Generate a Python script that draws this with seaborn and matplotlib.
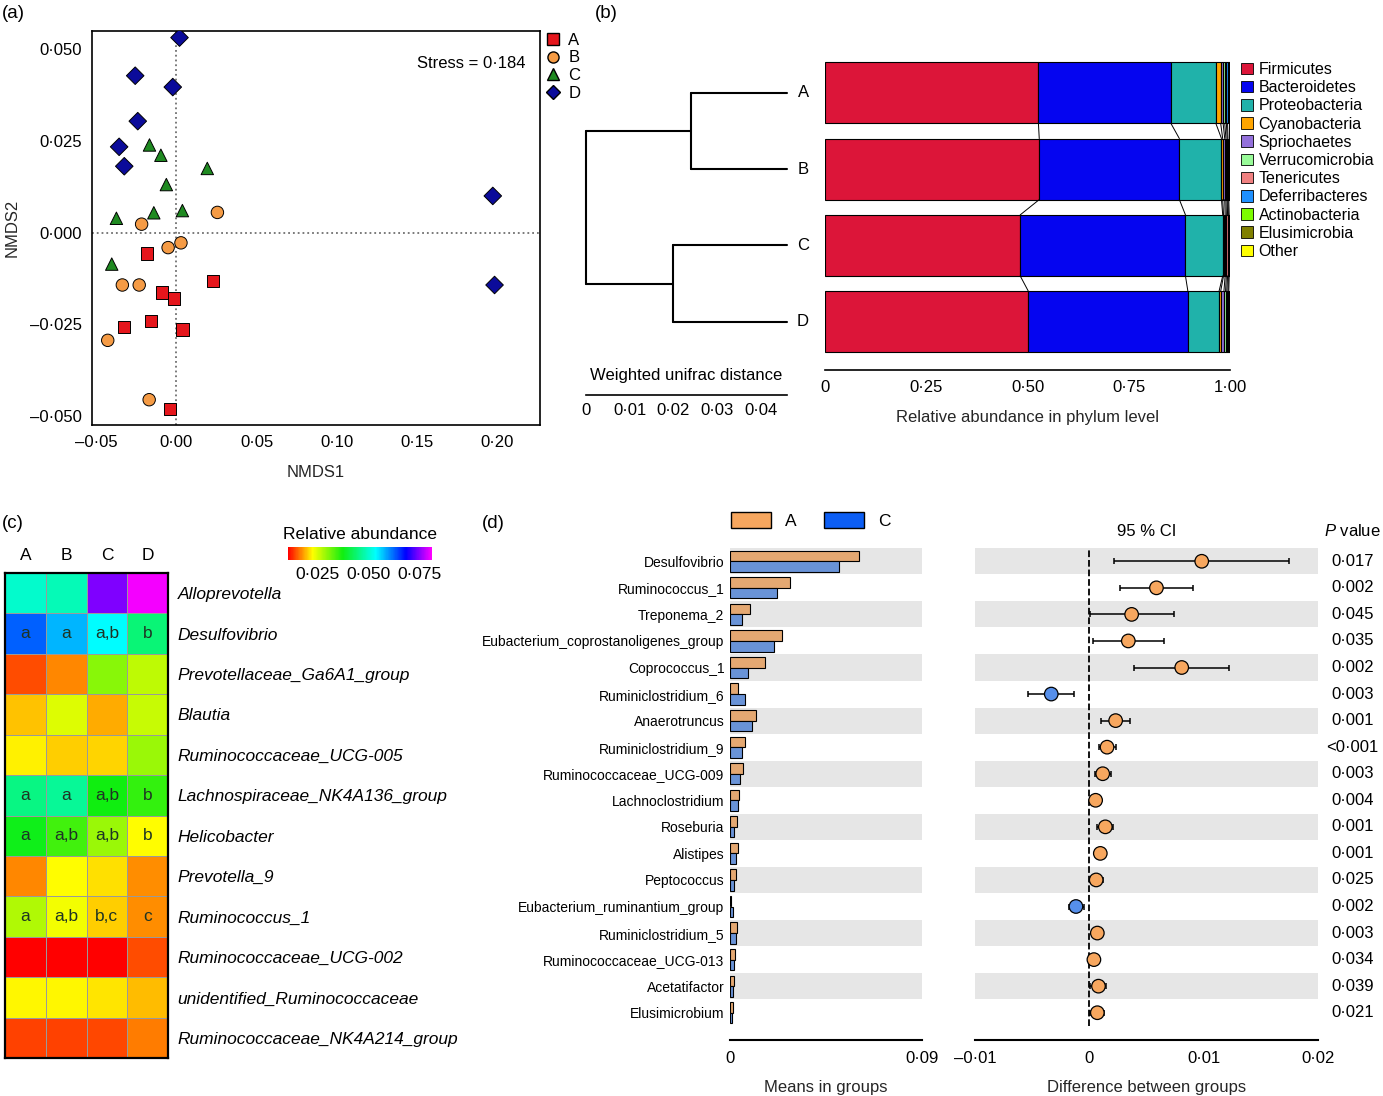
"""Four-panel gut microbiota figure: NMDS, phylum composition, genus heatmap, STAMP-style comparison."""

import matplotlib

matplotlib.use("Agg")
import matplotlib.pyplot as plt  # noqa: E402
import matplotlib.transforms as mtransforms  # noqa: E402
import numpy as np  # noqa: E402
import pandas as pd  # noqa: E402
import seaborn as sns  # noqa: E402
from matplotlib.colors import LinearSegmentedColormap  # noqa: E402
from matplotlib.lines import Line2D  # noqa: E402
from matplotlib.patches import Patch  # noqa: E402

W, H = 1383, 1096
GROUPS = ["A", "B", "C", "D"]

# ---- (a) NMDS -------------------------------------------------------------
NMDS_GROUP = ["A"] * 8 + ["B"] * 8 + ["C"] * 8 + ["D"] * 8
NMDS1 = [-0.0184, 0.0227, -0.0089, -0.0013, -0.0158, -0.0324, 0.0038, -0.0040,
         0.0256, -0.0216, 0.0029, -0.0051, -0.0336, -0.0231, -0.0427, -0.0169,
         -0.0167, -0.0096, 0.0193, -0.0062, -0.0373, -0.0140, 0.0038, -0.0402,
         0.0020, -0.0256, -0.0022, -0.0240, -0.0356, -0.0324, 0.1971, 0.1982]
NMDS2 = [-0.0057, -0.0132, -0.0164, -0.0180, -0.0242, -0.0257, -0.0264, -0.0482,
         0.0055, 0.0023, -0.0028, -0.0041, -0.0143, -0.0143, -0.0294, -0.0456,
         0.0239, 0.0211, 0.0175, 0.0131, 0.0039, 0.0054, 0.0060, -0.0086,
         0.0532, 0.0428, 0.0397, 0.0304, 0.0234, 0.0181, 0.0100, -0.0143]
NMDS_STRESS = 0.184
NMDS_XTICKS = [-0.05, 0.0, 0.05, 0.10, 0.15, 0.20]
NMDS_YTICKS = [-0.050, -0.025, 0.0, 0.025, 0.050]
GROUP_COLORS = {"A": "#E5161C", "B": "#F59B45", "C": "#1F8A21", "D": "#0B0B9A"}
GROUP_MARKERS = {"A": "s", "B": "o", "C": "^", "D": "D"}

# ---- (b) dendrogram + phylum composition ---------------------------------
MERGE_DIST = {"AB": 0.0220, "CD": 0.0261, "root": 0.0460}
PHYLA = ["Firmicutes", "Bacteroidetes", "Proteobacteria", "Cyanobacteria", "Spriochaetes",
         "Verrucomicrobia", "Tenericutes", "Deferribacteres", "Actinobacteria", "Elusimicrobia", "Other"]
PHYLUM_COLORS = ["#DC1539", "#0505F0", "#20B2AA", "#FFA500", "#9370DB", "#98FB98",
                 "#F08080", "#1E90FF", "#7CFC00", "#808000", "#FFFF00"]
FIRMICUTES = [0.527, 0.529, 0.482, 0.502]
BACTEROIDETES = [0.327, 0.346, 0.408, 0.394]
PROTEOBACTERIA = [0.111, 0.104, 0.092, 0.077]
CYANOBACTERIA = [0.012, 0.003, 0.002, 0.004]
SPIROCHAETES = [0.006, 0.005, 0.004, 0.008]
VERRUCOMICROBIA = [0.004, 0.003, 0.003, 0.004]
TENERICUTES = [0.004, 0.003, 0.003, 0.003]
DEFERRIBACTERES = [0.003, 0.002, 0.002, 0.003]
ACTINOBACTERIA = [0.003, 0.002, 0.002, 0.002]
ELUSIMICROBIA = [0.002, 0.002, 0.001, 0.002]
OTHER = [0.001, 0.001, 0.001, 0.001]

# ---- (c) genus heatmap ----------------------------------------------------
GENERA = ["Alloprevotella", "Desulfovibrio", "Prevotellaceae_Ga6A1_group", "Blautia",
          "Ruminococcaceae_UCG-005", "Lachnospiraceae_NK4A136_group", "Helicobacter",
          "Prevotella_9", "Ruminococcus_1", "Ruminococcaceae_UCG-002",
          "unidentified_Ruminococcaceae", "Ruminococcaceae_NK4A214_group"]
HEAT_A = [0.0501, 0.0628, 0.0141, 0.0197, 0.0217, 0.0451, 0.0380, 0.0169, 0.0273, 0.0095, 0.0220, 0.0134]
HEAT_B = [0.0486, 0.0579, 0.0169, 0.0245, 0.0202, 0.0465, 0.0344, 0.0224, 0.0231, 0.0095, 0.0220, 0.0134]
HEAT_C = [0.0749, 0.0536, 0.0298, 0.0186, 0.0205, 0.0373, 0.0288, 0.0209, 0.0202, 0.0095, 0.0213, 0.0137]
HEAT_D = [0.0806, 0.0444, 0.0266, 0.0259, 0.0288, 0.0352, 0.0224, 0.0171, 0.0171, 0.0141, 0.0194, 0.0163]
LETTERS_A = ["", "a", "", "", "", "a", "a", "", "a", "", "", ""]
LETTERS_B = ["", "a", "", "", "", "a", "a,b", "", "a,b", "", "", ""]
LETTERS_C = ["", "a,b", "", "", "", "a,b", "a,b", "", "b,c", "", "", ""]
LETTERS_D = ["", "b", "", "", "", "b", "b", "", "c", "", "", ""]
HEAT_VMIN, HEAT_VMAX = 0.0103, 0.0813
HEAT_TICKS = [0.025, 0.050, 0.075]

# ---- (d) A vs C extended error bar ---------------------------------------
TAXA = ["Desulfovibrio", "Ruminococcus_1", "Treponema_2", "Eubacterium_coprostanoligenes_group",
        "Coprococcus_1", "Ruminiclostridium_6", "Anaerotruncus", "Ruminiclostridium_9",
        "Ruminococcaceae_UCG-009", "Lachnoclostridium", "Roseburia", "Alistipes", "Peptococcus",
        "Eubacterium_ruminantium_group", "Ruminiclostridium_5", "Ruminococcaceae_UCG-013",
        "Acetatifactor", "Elusimicrobium"]
MEAN_A = [0.0606, 0.0281, 0.0094, 0.0242, 0.0164, 0.0036, 0.0123, 0.0070, 0.0059,
          0.0044, 0.0033, 0.0037, 0.0027, 0.0003, 0.0034, 0.0023, 0.0020, 0.0016]
MEAN_C = [0.0509, 0.0222, 0.0056, 0.0206, 0.0083, 0.0070, 0.0102, 0.0056, 0.0047,
          0.0037, 0.0020, 0.0028, 0.0019, 0.0016, 0.0028, 0.0020, 0.0013, 0.0008]
DIFF = [0.00983, 0.00587, 0.00370, 0.00341, 0.00808, -0.00333, 0.00230, 0.00155, 0.00117,
        0.00055, 0.00140, 0.00096, 0.00060, -0.00117, 0.00070, 0.00040, 0.00080, 0.00070]
CI_LO = [0.00213, 0.00266, 0.00006, 0.00032, 0.00391, -0.00534, 0.00105, 0.00082, 0.00050,
         0.00020, 0.00070, 0.00055, 0.00010, -0.00180, 0.00035, 0.00010, 0.00010, 0.00010]
CI_HI = [0.01748, 0.00910, 0.00738, 0.00654, 0.01220, -0.00134, 0.00353, 0.00230, 0.00190,
         0.00090, 0.00210, 0.00140, 0.00120, -0.00050, 0.00110, 0.00070, 0.00150, 0.00130]
P_VALUES = ["0\u00b7017", "0\u00b7002", "0\u00b7045", "0\u00b7035", "0\u00b7002", "0\u00b7003",
            "0\u00b7001", "<0\u00b7001", "0\u00b7003", "0\u00b7004", "0\u00b7001", "0\u00b7001",
            "0\u00b7025", "0\u00b7002", "0\u00b7003", "0\u00b7034", "0\u00b7039", "0\u00b7021"]
ORANGE = "#F7A75F"
BLUE = "#568FEA"
BLUE_LEG = "#0C5EF4"

sns.set_theme(style="white")
plt.rcParams["font.family"] = ["Liberation Sans", "DejaVu Sans"]
plt.rcParams["mathtext.fontset"] = "custom"
plt.rcParams["mathtext.it"] = "Liberation Sans:italic"
plt.rcParams["mathtext.rm"] = "Liberation Sans"
plt.rcParams["axes.edgecolor"] = "black"
plt.rcParams["xtick.color"] = "black"
plt.rcParams["ytick.color"] = "black"
plt.rcParams["text.color"] = "black"


def rect(x0, y0, x1, y1):
    """Pixel box (top-left origin) -> figure fraction rect."""
    return [x0 / W, 1 - y1 / H, (x1 - x0) / W, (y1 - y0) / H]


def dot(v, nd):
    s = f"{abs(v):.{nd}f}".replace(".", "\u00b7")
    return "\u2013" + s if v < 0 else s


fig = plt.figure(figsize=(W / 100, H / 100), dpi=100)

# ================= (a) =================
ax = fig.add_axes(rect(92, 31, 540, 425))
nmds = pd.DataFrame({"NMDS1": NMDS1, "NMDS2": NMDS2, "group": NMDS_GROUP})
ax.axvline(0, color="#707070", ls=":", lw=1.3, zorder=0)
ax.axhline(0, color="#707070", ls=":", lw=1.3, zorder=0)
sns.scatterplot(data=nmds, x="NMDS1", y="NMDS2", hue="group", style="group",
                palette=GROUP_COLORS, markers=GROUP_MARKERS, s=80, edgecolor="black",
                linewidth=0.7, legend=False, ax=ax, zorder=3)
ax.set_xlim(-0.0525, 0.2265)
ax.set_ylim(-0.0525, 0.055)
ax.set_xticks(NMDS_XTICKS)
ax.set_xticklabels([dot(v, 2) for v in NMDS_XTICKS])
ax.set_yticks(NMDS_YTICKS)
ax.set_yticklabels([dot(v, 3) for v in NMDS_YTICKS])
ax.set_xticks(np.arange(-0.025, 0.2, 0.05), minor=True)
ax.set_yticks(np.arange(-0.0375, 0.05, 0.025), minor=True)
ax.tick_params(which="major", length=0, labelsize=12, pad=7)
ax.tick_params(which="minor", length=5, direction="in", width=1)
for s in ax.spines.values():
    s.set_linewidth(1.2)
ax.set_xlabel("NMDS1", fontsize=12, labelpad=11)
ax.set_ylabel("NMDS2", fontsize=12, labelpad=8)
ax.text(0.968, 0.918, "Stress = " + dot(NMDS_STRESS, 3), transform=ax.transAxes,
        ha="right", va="center", fontsize=12)
fig.legend(handles=[Line2D([], [], ls="", marker=GROUP_MARKERS[g], markerfacecolor=GROUP_COLORS[g],
                           markeredgecolor="black", markersize=8 if g != "D" else 7) for g in GROUPS],
           labels=GROUPS, loc="upper left", bbox_to_anchor=(545 / W, 1 - 33 / H), frameon=False,
           fontsize=12, handlelength=1.0, handletextpad=0.4, labelspacing=0.15,
           borderpad=0, borderaxespad=0)

# ================= (b) =================
ylims = (3.45, -0.43)
ax_dn = fig.add_axes(rect(586, 60, 787, 356))
leaf_x = MERGE_DIST["root"]
x_ab = leaf_x - MERGE_DIST["AB"]
x_cd = leaf_x - MERGE_DIST["CD"]
x_root = leaf_x - MERGE_DIST["root"]
segs = [([leaf_x, x_ab], [0, 0]), ([leaf_x, x_ab], [1, 1]), ([x_ab, x_ab], [0, 1]),
        ([leaf_x, x_cd], [2, 2]), ([leaf_x, x_cd], [3, 3]), ([x_cd, x_cd], [2, 3]),
        ([x_ab, x_root], [0.5, 0.5]), ([x_cd, x_root], [2.5, 2.5]), ([x_root, x_root], [0.5, 2.5])]
for xs, ys in segs:
    ax_dn.plot(xs, ys, color="black", lw=1.5, clip_on=False, solid_capstyle="round")
for i, g in enumerate(GROUPS):
    ax_dn.text(leaf_x * 1.08, i, g, ha="center", va="center", fontsize=12)
ax_dn.set_xlim(0, leaf_x)
ax_dn.set_ylim(*ylims)
ax_dn.axis("off")

ax_r = fig.add_axes(rect(586, 384, 787, 395))
ax_r.set_xlim(0, leaf_x)
ax_r.set_yticks([])
for k in ["left", "right", "top"]:
    ax_r.spines[k].set_visible(False)
ax_r.spines["bottom"].set_linewidth(1.2)
ax_r.set_xticks([0, 0.01, 0.02, 0.03, 0.04])
ax_r.set_xticklabels(["0", "0\u00b701", "0\u00b702", "0\u00b703", "0\u00b704"])
ax_r.set_xticks(np.arange(0, leaf_x + 1e-9, 0.001), minor=True)
ax_r.tick_params(which="major", direction="in", length=6, width=1, labelsize=12, pad=6)
ax_r.tick_params(which="minor", direction="in", length=3, width=0.8)
ax_r.set_title("Weighted unifrac distance", fontsize=12, pad=3)
ax_r.patch.set_alpha(0)

ax_b = fig.add_axes(rect(825, 60, 1230, 356))
comp = pd.DataFrame({"Firmicutes": FIRMICUTES, "Bacteroidetes": BACTEROIDETES,
                     "Proteobacteria": PROTEOBACTERIA, "Cyanobacteria": CYANOBACTERIA,
                     "Spriochaetes": SPIROCHAETES, "Verrucomicrobia": VERRUCOMICROBIA,
                     "Tenericutes": TENERICUTES, "Deferribacteres": DEFERRIBACTERES,
                     "Actinobacteria": ACTINOBACTERIA, "Elusimicrobia": ELUSIMICROBIA,
                     "Other": OTHER}, index=GROUPS)
ypos = np.arange(len(GROUPS))
left = np.zeros(len(GROUPS))
for name, color in zip(PHYLA, PHYLUM_COLORS):
    ax_b.barh(ypos, comp[name].values, left=left, height=0.8, color=color,
              edgecolor="black", linewidth=0.8)
    left = left + comp[name].values
cum = comp.cumsum(axis=1).values
for j in range(cum.shape[1] - 1):
    for i in range(len(GROUPS) - 1):
        ax_b.plot([cum[i, j], cum[i + 1, j]], [i + 0.4, i + 0.6], color="black", lw=0.7)
ax_b.set_xlim(0, 1)
ax_b.set_ylim(*ylims)
ax_b.set_yticks([])
for k in ["left", "right", "top"]:
    ax_b.spines[k].set_visible(False)
ax_b.spines["bottom"].set_position(("outward", 10))
ax_b.spines["bottom"].set_linewidth(1.2)
ax_b.set_xticks([0, 0.25, 0.5, 0.75, 1.0])
ax_b.set_xticklabels(["0", "0\u00b725", "0\u00b750", "0\u00b775", "1\u00b700"])
ax_b.tick_params(axis="x", direction="in", length=6, width=1, labelsize=12, pad=7)
ax_b.set_xlabel("Relative abundance in phylum level", fontsize=12, labelpad=11)
fig.legend(handles=[Patch(facecolor=c, edgecolor="black", linewidth=0.6) for c in PHYLUM_COLORS],
           labels=PHYLA, loc="upper left", bbox_to_anchor=(1241 / W, 1 - 62 / H), frameon=False,
           fontsize=11.5, handlelength=0.75, handleheight=0.75, handletextpad=0.35,
           labelspacing=0.2, borderpad=0, borderaxespad=0)

# ================= (c) =================
ax_hm = fig.add_axes(rect(5, 573, 168, 1058))
cax = fig.add_axes(rect(288, 547, 432, 560))
heat = pd.DataFrame({"A": HEAT_A, "B": HEAT_B, "C": HEAT_C, "D": HEAT_D}, index=GENERA)
letters = pd.DataFrame({"A": LETTERS_A, "B": LETTERS_B, "C": LETTERS_C, "D": LETTERS_D}, index=GENERA)
rainbow = LinearSegmentedColormap.from_list(
    "abund", [(0.0, "#FF0000"), (0.17, "#FFFF00"), (0.38, "#10EE10"), (0.61, "#00FFFF"),
              (0.82, "#0000FF"), (1.0, "#FF00FF")])
sns.heatmap(heat, cmap=rainbow, vmin=HEAT_VMIN, vmax=HEAT_VMAX, annot=letters.values, fmt="",
            annot_kws={"fontsize": 12.5, "color": "#1E3424"}, linewidths=0.6, linecolor="#9a9a9a",
            cbar_ax=cax, cbar_kws={"orientation": "horizontal"}, ax=ax_hm)
ax_hm.xaxis.tick_top()
ax_hm.yaxis.tick_right()
ax_hm.set_xticklabels(GROUPS, rotation=0, fontsize=12.5)
ax_hm.set_yticklabels(GENERA, rotation=0, fontsize=12.5, style="italic")
ax_hm.tick_params(length=0, pad=7)
ax_hm.set_xlabel("")
ax_hm.set_ylabel("")
for s in ax_hm.spines.values():
    s.set_visible(True)
    s.set_linewidth(1.6)
cbar = ax_hm.collections[0].colorbar
cbar.outline.set_visible(False)
cbar.set_ticks(HEAT_TICKS)
cbar.set_ticklabels([dot(v, 3) for v in HEAT_TICKS])
cax.tick_params(length=0, labelsize=12.5, pad=5)
cax.set_title("Relative abundance", fontsize=12.5, pad=6)

# ================= (d) =================
ax_m = fig.add_axes(rect(730, 548, 922, 1026))
means = pd.DataFrame({"taxon": TAXA * 2, "group": ["A"] * len(TAXA) + ["C"] * len(TAXA),
                      "mean": MEAN_A + MEAN_C})
for i in range(0, len(TAXA), 2):
    ax_m.axhspan(i - 0.49, i + 0.49, color="#E6E6E6", lw=0, zorder=0)
sns.barplot(data=means, y="taxon", x="mean", hue="group", palette={"A": ORANGE, "C": BLUE},
            orient="h", width=0.8, edgecolor="black", linewidth=0.8, legend=False, ax=ax_m)
ax_m.set_xlim(0, 0.09)
ax_m.set_ylim(len(TAXA) - 0.5, -0.5)
for k in ["left", "right", "top"]:
    ax_m.spines[k].set_visible(False)
ax_m.spines["bottom"].set_position(("outward", 10))
ax_m.spines["bottom"].set_linewidth(1.5)
ax_m.set_xticks([0, 0.09])
ax_m.set_xticklabels(["0", "0\u00b709"])
ax_m.tick_params(axis="x", direction="in", length=6, width=1.5, labelsize=12, pad=8)
ax_m.tick_params(axis="y", length=0, labelsize=10, pad=4)
ax_m.set_xlabel("Means in groups", fontsize=12, labelpad=10)
ax_m.set_ylabel("")

ax_ci = fig.add_axes(rect(975, 548, 1318, 1026))
diff = pd.DataFrame({"row": np.arange(len(TAXA)), "diff": DIFF, "lo": CI_LO, "hi": CI_HI})
diff["higher"] = np.where(diff["diff"] > 0, "A", "C")
for i in range(0, len(TAXA), 2):
    ax_ci.axhspan(i - 0.49, i + 0.49, color="#E6E6E6", lw=0, zorder=0)
ax_ci.axvline(0, color="black", ls="--", lw=1.3, zorder=1)
ax_ci.errorbar(diff["diff"], diff["row"], xerr=[diff["diff"] - diff["lo"], diff["hi"] - diff["diff"]],
               fmt="none", ecolor="black", elinewidth=1.1, capsize=2.5, capthick=1.1, zorder=2)
sns.scatterplot(data=diff, x="diff", y="row", hue="higher", palette={"A": ORANGE, "C": BLUE},
                s=95, edgecolor="black", linewidth=0.9, legend=False, ax=ax_ci, zorder=3)
ax_ci.set_xlim(-0.01, 0.02)
ax_ci.set_ylim(len(TAXA) - 0.5, -0.5)
ax_ci.set_yticks([])
ax_ci.set_ylabel("")
for k in ["left", "right", "top"]:
    ax_ci.spines[k].set_visible(False)
ax_ci.spines["bottom"].set_position(("outward", 10))
ax_ci.spines["bottom"].set_linewidth(1.5)
ax_ci.set_xticks([-0.01, 0, 0.01, 0.02])
ax_ci.set_xticklabels(["\u20130\u00b701", "0", "0\u00b701", "0\u00b702"])
ax_ci.set_xticks([-0.01, 0.02], minor=True)
ax_ci.tick_params(axis="x", which="major", length=0, labelsize=12, pad=8)
ax_ci.tick_params(axis="x", which="minor", direction="in", length=6, width=1.5)
ax_ci.set_xlabel("Difference between groups", fontsize=12, labelpad=10)
trans = mtransforms.blended_transform_factory(ax_ci.transAxes, ax_ci.transData)
for i, p in enumerate(P_VALUES):
    ax_ci.text(1.10, i, p, transform=trans, ha="center", va="center", fontsize=12)
ax_ci.text(1.10, -1.13, r"$\mathit{P}$ value", transform=trans, ha="center", va="center", fontsize=12)
ax_ci.text(0.5, -1.13, "95 % CI", transform=trans, ha="center", va="center", fontsize=12)
fig.legend(handles=[Patch(facecolor=ORANGE, edgecolor="black", linewidth=1),
                    Patch(facecolor=BLUE_LEG, edgecolor="black", linewidth=1)],
           labels=["A", "C"], ncol=2, loc="upper left", bbox_to_anchor=(731 / W, 1 - 512 / H),
           frameon=False, fontsize=12.5, handlelength=2.3, handleheight=1.0,
           handletextpad=0.8, columnspacing=1.6, borderpad=0, borderaxespad=0)

# panel letters
for lab, (px, py) in {"(a)": (2, 14), "(b)": (595, 13), "(c)": (2, 524), "(d)": (482, 524)}.items():
    fig.text(px / W, 1 - py / H, lab, fontsize=13.5, va="center", ha="left")

fig.savefig("out.png", dpi=100, facecolor="white")
